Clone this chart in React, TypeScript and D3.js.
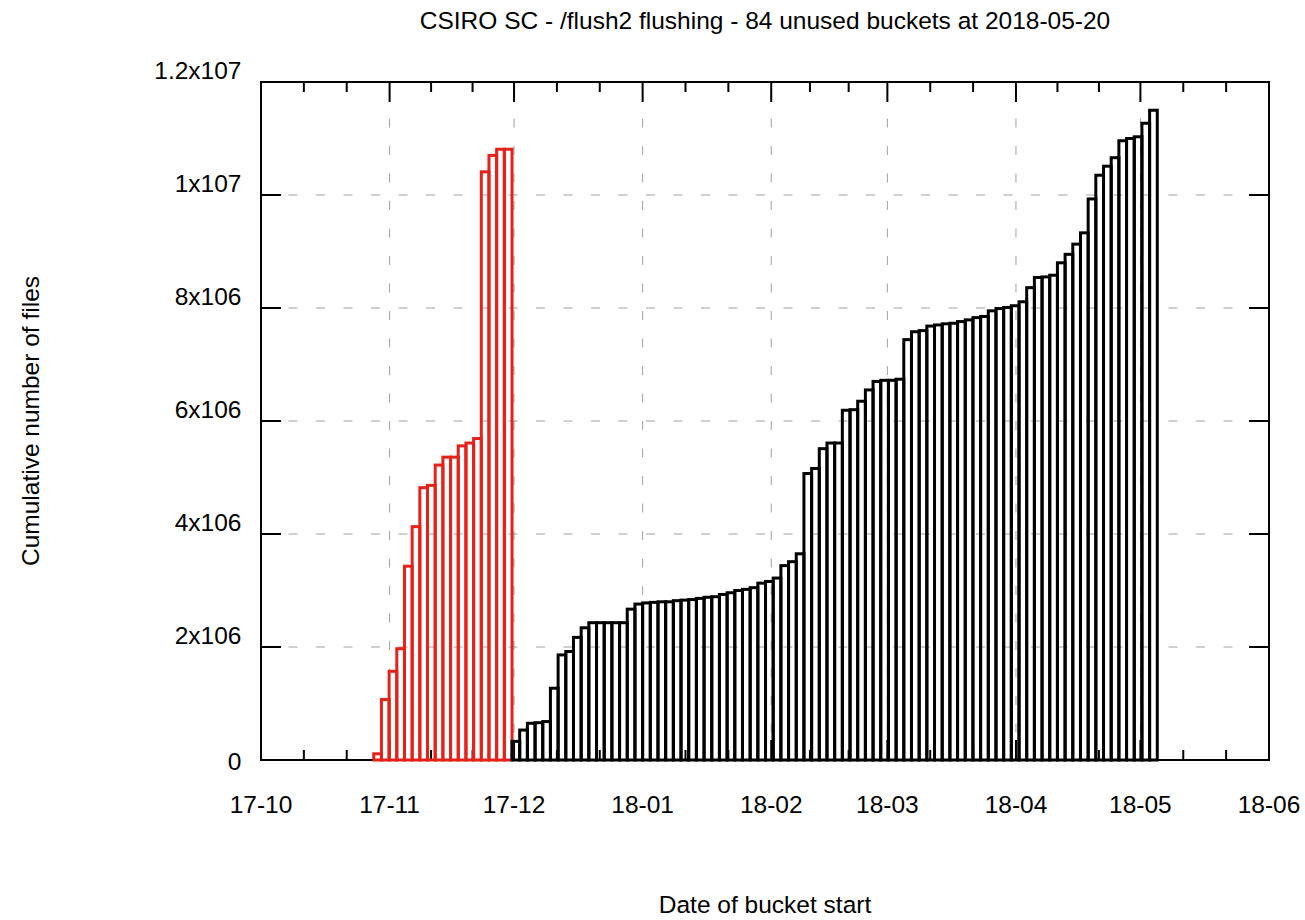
import React, { useEffect, useRef } from 'react';
import * as d3 from 'd3';

// cumulative number of files per bucket
const flushedCounts = [
  110000, 1070000, 1570000, 1970000, 3430000, 4130000, 4820000, 4860000, 5220000,
  5360000, 5360000, 5560000, 5610000, 5690000, 10410000, 10700000, 10810000, 10810000,
];

const unusedCounts = [
  330000, 530000, 650000, 660000, 680000, 1270000, 1860000, 1920000, 2170000, 2340000,
  2430000, 2430000, 2430000, 2430000, 2430000, 2670000, 2760000, 2780000, 2790000, 2800000,
  2800000, 2820000, 2830000, 2840000, 2860000, 2880000, 2890000, 2930000, 2960000, 3000000,
  3020000, 3050000, 3130000, 3160000, 3220000, 3440000, 3510000, 3650000, 5070000, 5160000,
  5510000, 5610000, 5610000, 6190000, 6200000, 6350000, 6550000, 6700000, 6720000, 6720000,
  6740000, 7440000, 7580000, 7600000, 7680000, 7700000, 7720000, 7730000, 7760000, 7790000,
  7830000, 7850000, 7950000, 7990000, 8010000, 8040000, 8110000, 8360000, 8540000, 8550000,
  8580000, 8800000, 8950000, 9130000, 9330000, 9930000, 10350000, 10510000, 10660000, 10960000,
  11000000, 11030000, 11270000, 11500000,
];

const firstBucketStart = Date.UTC(2017, 9, 28, 4, 20);
const bucketSeconds = 160000;

const xDomain = [new Date(Date.UTC(2017, 9, 1)), new Date(Date.UTC(2018, 5, 1))];
const xTickLabels = ['17-10', '17-11', '17-12', '18-01', '18-02', '18-03', '18-04', '18-05', '18-06'];
const yTickValues = [0, 2e6, 4e6, 6e6, 8e6, 1e7, 1.2e7];
const yTickLabels = ['0', '2x106', '4x106', '6x106', '8x106', '1x107', '1.2x107'];

const title = 'CSIRO SC - /flush2 flushing - 84 unused buckets at 2018-05-20';

const FONT = '"Liberation Sans", Arial, sans-serif';

const BucketChart = ({ width = 1305, height = 920 }) => {
  const svgRef = useRef<SVGSVGElement>(null);

  useEffect(() => {
    const svg = d3.select(svgRef.current);
    svg.selectAll('*').remove();

    const margin = { top: 82, right: 36, bottom: 160, left: 261 };
    const innerWidth = width - margin.left - margin.right;
    const innerHeight = height - margin.top - margin.bottom;

    svg.append('rect').attr('width', width).attr('height', height).attr('fill', 'white');

    const g = svg.append('g').attr('transform', `translate(${margin.left},${margin.top})`);

    const x = d3.scaleUtc().domain(xDomain).range([0, innerWidth]);
    const y = d3.scaleLinear().domain([0, 1.2e7]).range([innerHeight, 0]);

    const monthTicks = x.ticks(d3.utcMonth.every(1));
    const minorTicks: Date[] = [];
    for (let i = 0; i < monthTicks.length - 1; i++) {
      const a = +monthTicks[i];
      const b = +monthTicks[i + 1];
      minorTicks.push(new Date(a + (b - a) / 3), new Date(a + (2 * (b - a)) / 3));
    }

    // grid
    const grid = g.append('g')
      .attr('stroke', '#a0a0a0')
      .attr('stroke-width', 1)
      .attr('stroke-dasharray', '9,18.5');

    grid.selectAll('.hgrid')
      .data(yTickValues.slice(1, -1))
      .enter()
      .append('line')
      .attr('x1', 0)
      .attr('x2', innerWidth)
      .attr('y1', d => y(d))
      .attr('y2', d => y(d));

    grid.selectAll('.vgrid')
      .data(monthTicks.slice(1, -1))
      .enter()
      .append('line')
      .attr('x1', d => x(d))
      .attr('x2', d => x(d))
      .attr('y1', innerHeight)
      .attr('y2', 0);

    // border + ticks (mirrored on all sides)
    const axes = g.append('g').attr('stroke', 'black').attr('stroke-width', 2);
    axes.append('rect')
      .attr('width', innerWidth)
      .attr('height', innerHeight)
      .attr('fill', 'none');

    const major = 20;
    const minor = 10;
    monthTicks.forEach(d => {
      axes.append('line').attr('x1', x(d)).attr('x2', x(d)).attr('y1', innerHeight).attr('y2', innerHeight - major);
      axes.append('line').attr('x1', x(d)).attr('x2', x(d)).attr('y1', 0).attr('y2', major);
    });
    minorTicks.forEach(d => {
      axes.append('line').attr('x1', x(d)).attr('x2', x(d)).attr('y1', innerHeight).attr('y2', innerHeight - minor);
      axes.append('line').attr('x1', x(d)).attr('x2', x(d)).attr('y1', 0).attr('y2', minor);
    });
    yTickValues.forEach(v => {
      axes.append('line').attr('x1', 0).attr('x2', major).attr('y1', y(v)).attr('y2', y(v));
      axes.append('line').attr('x1', innerWidth).attr('x2', innerWidth - major).attr('y1', y(v)).attr('y2', y(v));
    });

    // buckets as outlined boxes
    const buckets = [
      ...flushedCounts.map((value, i) => ({ i, value, color: '#e52219' })),
      ...unusedCounts.map((value, i) => ({ i: i + flushedCounts.length, value, color: 'black' })),
    ].map(d => ({
      ...d,
      start: new Date(firstBucketStart + d.i * bucketSeconds * 1000),
      end: new Date(firstBucketStart + (d.i + 1) * bucketSeconds * 1000),
    }));

    g.append('g')
      .selectAll('rect')
      .data(buckets)
      .enter()
      .append('rect')
      .attr('x', d => x(d.start))
      .attr('y', d => y(d.value))
      .attr('width', d => x(d.end) - x(d.start))
      .attr('height', d => innerHeight - y(d.value))
      .attr('fill', 'none')
      .attr('stroke', d => d.color)
      .attr('stroke-width', 3);

    // tick labels
    const labels = g.append('g')
      .style('font-family', FONT)
      .style('font-size', '24.5px')
      .attr('fill', 'black');

    labels.selectAll('.xlabel')
      .data(monthTicks)
      .enter()
      .append('text')
      .attr('x', d => x(d))
      .attr('y', innerHeight + 53)
      .attr('text-anchor', 'middle')
      .text((d, i) => xTickLabels[i]);

    labels.selectAll('.ylabel')
      .data(yTickValues)
      .enter()
      .append('text')
      .attr('x', -19.5)
      .attr('y', d => (d === 0 ? y(d) + 10 : y(d) - 3))
      .attr('text-anchor', 'end')
      .text((d, i) => yTickLabels[i]);

    // titles
    svg.append('text')
      .attr('x', margin.left + innerWidth / 2)
      .attr('y', 29)
      .attr('text-anchor', 'middle')
      .style('font-family', FONT)
      .style('font-size', '24.5px')
      .text(title);

    svg.append('text')
      .attr('x', margin.left + innerWidth / 2)
      .attr('y', 913)
      .attr('text-anchor', 'middle')
      .style('font-family', FONT)
      .style('font-size', '24.5px')
      .text('Date of bucket start');

    svg.append('text')
      .attr('transform', `translate(39, ${margin.top + innerHeight / 2}) rotate(-90)`)
      .attr('text-anchor', 'middle')
      .style('font-family', FONT)
      .style('font-size', '24.5px')
      .text('Cumulative number of files');
  }, [width, height]);

  return (
    <svg
      ref={svgRef}
      width={width}
      height={height}
      style={{ position: 'absolute', left: 0, top: 0 }}
    ></svg>
  );
};

export default function App() {
  return <BucketChart />;
}
